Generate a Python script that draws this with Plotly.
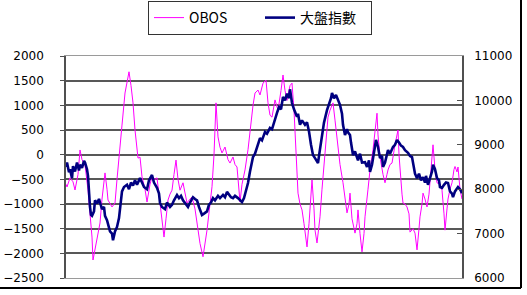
import plotly.graph_objects as go

# TAIEX (大盤指數) — trading-day index and value (right axis)
taiex_day = [0,2,6,8,12,14,18,22,26,28,32,36,38,42,44,46,48,50,52,56,58,62,66,68,72,76,78,82,86,88,92,94,98,102,106,110,112,116,122,126,130,134,138,142,148,152,156,162,166,172,176,182,186,188,192,198,202,208,212,216,222,226,230,234,238,244,248,254,258,262,266,272,276,282,286,290,294,298,304,308,314,318,322,326,330,334,338,344,348,352,356,360,364,368,374,378,382,388,392,398,402,408,412,418,422,426,430,434,438,442,446,448,450,452,456,462,464,468,472,478,482,486,490,494,498,504,506,508,512,516,522,526,530,532,536,540,544,548,552,554,558,562,564,568,570,574,578,582,584,588,592,598,602,606,608,612,616,620,624,628,632,634,638,644,648,654,658,662,666,670,674,678,684,688,692,696,698,702,706,710,714,718,720,724,728,732,734,738,742,746,748,752,756,760,764,768,772,774,778,782,784,788,792]
taiex_val = [8500,8600,8380,8450,8250,8520,8400,8600,8420,8550,8480,8640,8600,8450,8300,7900,7600,7420,7400,7500,7750,7680,7780,7700,7550,7600,7400,7300,7150,7050,7000,6850,7050,7150,7350,7700,7950,8050,8100,8000,8150,8080,8200,8100,8250,8150,8050,8000,8200,8320,8150,8030,7900,7690,7600,7550,7700,7600,7650,7750,7870,7800,7850,7750,7700,7600,7700,7820,7780,7750,7600,7420,7450,7500,7650,7700,7800,7750,7850,7800,7870,7820,7940,7880,7820,7800,7850,7800,7750,7710,7800,7950,8140,8400,8725,8800,8950,9150,9100,9290,9250,9380,9350,9600,9720,9850,9800,10076,10000,10150,10050,10250,10100,9940,9800,9630,9700,9450,9550,9450,9510,9300,9000,8770,8700,8590,8750,8900,9265,9500,9780,9900,10050,10166,10050,10120,10000,9900,9700,9450,9220,9350,9280,9220,9050,8770,8850,8700,8650,8800,8600,8610,8500,8650,8390,8550,8800,9110,8950,8700,8750,8500,8600,8880,8800,8950,9000,9110,9050,8980,8950,8880,8820,8750,8725,8500,8350,8250,8350,8200,8270,8150,8300,8100,8250,8400,8550,8450,8250,8200,8050,8030,8100,8150,8140,7950,7900,7820,7950,8000,8050,8000,7910]

# OBOS — trading-day index and value (left axis)
obos_day = [0,2,8,14,18,24,28,32,38,44,48,52,54,58,62,68,72,78,82,84,92,98,102,108,112,118,122,126,130,134,138,144,148,152,158,162,168,172,178,182,188,192,196,200,204,208,212,216,220,224,228,234,238,242,248,252,258,262,268,274,278,282,288,292,296,300,304,308,312,318,324,328,334,338,342,348,352,358,364,368,374,378,384,388,394,400,404,408,412,418,424,430,434,438,442,448,452,456,458,462,464,468,472,476,478,482,486,488,492,496,498,502,506,508,512,514,520,524,528,534,538,544,548,554,558,562,566,568,572,578,582,584,588,592,596,598,604,608,614,618,622,624,628,634,638,642,644,648,652,658,664,666,668,672,674,678,682,686,688,694,698,702,706,708,712,714,718,722,726,728,732,734,738,742,748,752,756,758,762,764,768,772,776,778,782,784,788,792]
obos_val = [-600,-655,-470,-550,-716,-400,95,-100,-210,-716,-1200,-1670,-2135,-1900,-1730,-1385,-900,-370,-700,-920,-1060,-980,-500,95,600,1250,1500,1680,1400,1050,500,-70,-50,-450,-700,-960,-600,-450,-500,-470,-980,-1300,-1670,-1300,-920,-800,-720,-400,-110,-500,-720,-570,-750,-980,-900,-860,-1100,-1380,-1800,-2070,-1800,-1530,-1000,-650,0,1050,360,150,35,155,-100,-170,-47,-200,-250,-960,-600,-310,100,500,1000,1250,1310,1210,1450,1510,1050,800,760,1110,900,1300,1615,1300,1100,1400,1450,900,440,-200,-780,-1000,-1120,-1400,-1530,-1870,-1400,-1120,-510,-1100,-1530,-1790,-1500,-1260,-700,-450,300,760,900,1050,700,200,-200,-570,-900,-1180,-1000,-780,-1300,-1590,-1400,-1120,-1600,-1970,-1600,-1260,-700,-310,100,440,840,400,-50,-400,-570,-400,-310,-200,-170,200,500,0,-310,-800,-980,-1000,-1060,-1200,-1570,-1500,-1590,-1930,-1500,-1260,-1000,-780,-900,-1060,-800,-570,-100,200,-300,-570,-600,-720,-1200,-1530,-1100,-900,-700,-570,-300,-240,-350,-250,-700,-900]

assert len(taiex_day) == len(taiex_val), (len(taiex_day), len(taiex_val))
assert len(obos_day) == len(obos_val), (len(obos_day), len(obos_val))

left_ticks = [2000, 1500, 1000, 500, 0, -500, -1000, -1500, -2000, -2500]
right_ticks = [11000, 10000, 9000, 8000, 7000, 6000]

W, H = 527, 295
L, R, T, B = 66, 462, 56, 278

def px(x):
    return (x - L) / (R - L)

def py(y):
    return (B - y) / (B - T)

fig = go.Figure()
fig.add_trace(go.Scatter(x=obos_day, y=obos_val, name="OBOS", mode="lines",
                         line=dict(color="#FF00FF", width=1), yaxis="y"))
fig.add_trace(go.Scatter(x=taiex_day, y=taiex_val, name="大盤指數", mode="lines",
                         line=dict(color="#000080", width=2.6), yaxis="y2"))

tickfont = dict(family="DejaVu Sans, Arial", size=12, color="#000000")

fig.update_layout(
    width=W, height=H,
    margin=dict(l=L, r=W - R, t=T, b=H - B, autoexpand=False),
    paper_bgcolor="white", plot_bgcolor="white",
    showlegend=True,
    legend=dict(orientation="h", x=px(148), xanchor="left", y=py(1), yanchor="top",
                bgcolor="white", bordercolor="#333333", borderwidth=1,
                font=dict(family="Noto Sans CJK TC, DejaVu Sans", size=14, color="#000000"),
                entrywidth=66, tracegroupgap=0),
    xaxis=dict(range=[0, 792], showticklabels=False, ticks="", showgrid=False,
               zeroline=False, showline=True, linecolor="#9a9a9a", linewidth=1, mirror=True,
               automargin=False),
    yaxis=dict(range=[-2500, 2000], tickvals=left_ticks, ticks="outside", ticklen=4,
               tickcolor="#505050", showgrid=True, gridcolor="#585858", gridwidth=1.6,
               zeroline=False, showline=True, linecolor="#505050", linewidth=1.5,
               tickfont=tickfont, ticklabelstandoff=14, automargin=False),
    yaxis2=dict(range=[6000, 11000], tickvals=right_ticks,
                ticktext=[str(v) for v in right_ticks], overlaying="y", side="right",
                ticks="inside", ticklen=5, tickcolor="#505050", showgrid=False,
                zeroline=False, showline=True, linecolor="#505050", linewidth=1.5,
                tickfont=tickfont, ticklabelstandoff=8, automargin=False),
    shapes=[
        dict(type="line", xref="paper", yref="paper", x0=px(0), x1=px(521), y0=py(288), y1=py(288),
             line=dict(color="black", width=2)),
        dict(type="line", xref="paper", yref="paper", x0=px(521), x1=px(521), y0=py(288), y1=py(0),
             line=dict(color="black", width=2)),
    ],
)

fig.write_html("out.html")
